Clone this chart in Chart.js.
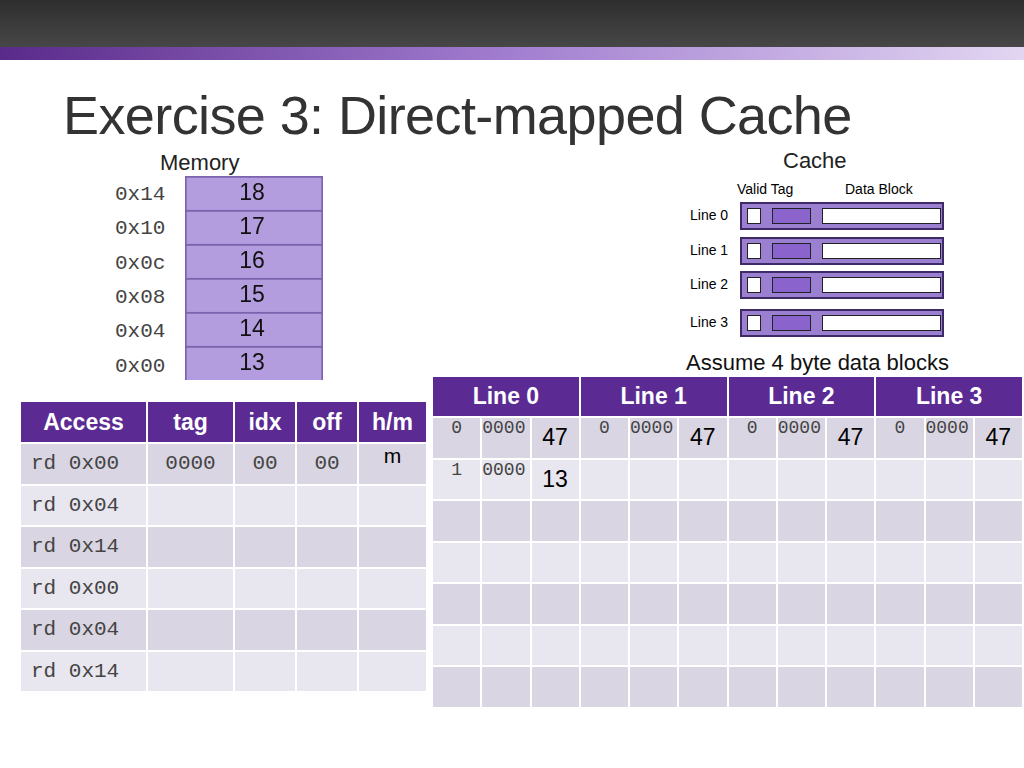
<!DOCTYPE html>
<html><head><meta charset="utf-8">
<script src="https://cdn.jsdelivr.net/npm/chart.js@4"></script>
<style>
body{margin:0;width:1024px;height:768px;position:relative;background:#fff;font-family:"Liberation Sans",Arial,sans-serif;overflow:hidden}
.abs{position:absolute}
.mono{font-family:"Liberation Mono","Courier New",monospace;color:#444}
table{border-collapse:collapse;position:absolute;table-layout:fixed}
td,th{border:2px solid #fff;padding:0;overflow:hidden;white-space:nowrap}
th{background:#5b2b93;color:#fff;font-weight:bold;font-size:23px}
td.a{background:#d9d5e2}td.b{background:#e8e6ee}
.cl{position:absolute;left:740px;width:200px;height:24px;background:#9b80d2;border:2px solid #3d2a66}
.cl i{position:absolute;top:4px;height:14px;border:1.5px solid #222;background:#fff}
</style></head><body>
<div class="abs" style="left:0;top:0;width:1024px;height:47px;background:linear-gradient(#2e2e2e,#474747)"></div>
<div class="abs" style="left:0;top:47px;width:1024px;height:13px;background:linear-gradient(90deg,#5a2a8a,#a27ed0 50%,#e2d6f2)"></div>
<div class="abs" style="left:63px;top:84px;font-size:54px;color:#333;letter-spacing:-0.6px">Exercise 3: Direct-mapped Cache</div>
<div class="abs" style="left:160px;top:150px;font-size:22px;color:#222">Memory</div>
<div id="addr"></div>
<div class="abs" style="left:185px;top:176px;width:138px;height:204px"><canvas id="mem"></canvas></div>
<div class="abs" style="left:783px;top:148px;font-size:22px;color:#222">Cache</div>
<div class="abs" style="left:737px;top:181px;font-size:14px">Valid Tag</div>
<div class="abs" style="left:845px;top:181px;font-size:14px">Data Block</div>
<div id="cache"></div>
<div class="abs" style="left:686px;top:350px;font-size:22px;color:#111">Assume 4 byte data blocks</div>
<table id="lt" style="left:19px;top:400px;width:399px"></table>
<table id="rt" style="left:431px;top:375px;width:593px"></table>
<script>
const memAddrs = ["0x14","0x10","0x0c","0x08","0x04","0x00"];
const memValues = [18,17,16,15,14,13];
const accesses = ["rd 0x00","rd 0x04","rd 0x14","rd 0x00","rd 0x04","rd 0x14"];
const accTag = ["0000","","","","",""];
const accIdx = ["00","","","","",""];
const accOff = ["00","","","","",""];
const accHM = ["m","","","","",""];
const cacheLines = ["Line 0","Line 1","Line 2","Line 3"];
// per line: rows of [valid, tag, data]
const cacheRows = [
  [["0","0000","47"],["1","0000","13"]],
  [["0","0000","47"]],
  [["0","0000","47"]],
  [["0","0000","47"]]
];

const addr = document.getElementById("addr");
memAddrs.forEach((a,i)=>{
  addr.innerHTML += `<div class="abs mono" style="left:115px;top:${183+i*34.3}px;font-size:21px">${a}</div>`;
});
const cache = document.getElementById("cache");
[216,251,285,323].forEach((y,i)=>{
  cache.innerHTML += `<div class="abs" style="left:690px;top:${y-9}px;font-size:14px">${cacheLines[i]}</div>
  <div class="cl" style="top:${y-14}px"><i style="left:5px;width:12px"></i><i style="left:30px;width:37px;background:#8a63cc"></i><i style="left:80px;width:117px"></i></div>`;
});

const lt = document.getElementById("lt");
let h = "<tr style='height:42px'>";
[["Access",125],["tag",85],["idx",60],["off",60],["h/m",67]].forEach(([t,w])=>h+=`<th style="width:${w}px">${t}</th>`);
h += "</tr>";
accesses.forEach((a,i)=>{
  const c = i%2?"b":"a";
  h += `<tr style="height:41.5px;font-size:21px">
  <td class="${c} mono" style="padding-left:10px">${a}</td><td class="${c} mono" style="text-align:center">${accTag[i]}</td>
  <td class="${c} mono" style="text-align:center">${accIdx[i]}</td><td class="${c} mono" style="text-align:center">${accOff[i]}</td>
  <td class="${c}" style="text-align:center;vertical-align:top">${accHM[i]}</td></tr>`;
});
lt.innerHTML = h;

const rt = document.getElementById("rt");
h = "<tr style='height:41px'>";
cacheLines.forEach(l=>h+=`<th colspan="3">${l}</th>`);
h += "</tr>";
for(let r=0;r<7;r++){
  const c = r%2?"b":"a";
  h += "<tr style='height:41.5px'>";
  cacheLines.forEach((l,k)=>{
    const v = cacheRows[k][r] || ["","",""];
    h += `<td class="${c} mono" style="width:26px;font-size:18px;text-align:center;vertical-align:top">${v[0]}</td>
    <td class="${c} mono" style="width:60px;font-size:18px;vertical-align:top">${v[1]}</td>
    <td class="${c}" style="width:58px;font-size:23px;text-align:center">${v[2]}</td>`;
  });
  h += "</tr>";
}
rt.innerHTML = h;

// memory stack drawn as a stacked bar
const order = memValues.slice().reverse(); // bottom to top
new Chart(document.getElementById("mem"), {
  type: "bar",
  data: {
    labels: ["mem"],
    datasets: order.map(v => ({ label: String(v), data: [1], backgroundColor: "#b39ddf", borderColor: "#7d62ad", borderWidth: 2, barPercentage: 1, categoryPercentage: 1 }))
  },
  options: {
    responsive: true, maintainAspectRatio: false, animation: false,
    layout: { padding: 0 },
    plugins: { legend: { display: false }, tooltip: { enabled: false } },
    scales: { x: { stacked: true, display: false }, y: { stacked: true, display: false, min: 0, max: order.length } }
  },
  plugins: [{
    id: "vals",
    afterDatasetsDraw(chart) {
      const ctx = chart.ctx;
      ctx.save();
      ctx.font = "23px 'Liberation Sans', Arial";
      ctx.fillStyle = "#111";
      ctx.textAlign = "center";
      ctx.textBaseline = "middle";
      chart.data.datasets.forEach((ds, i) => {
        const bar = chart.getDatasetMeta(i).data[0];
        ctx.fillText(ds.label, bar.x - 2, (bar.y + bar.base) / 2 + 1);
      });
      ctx.restore();
    }
  }]
});
</script>
</body></html>
